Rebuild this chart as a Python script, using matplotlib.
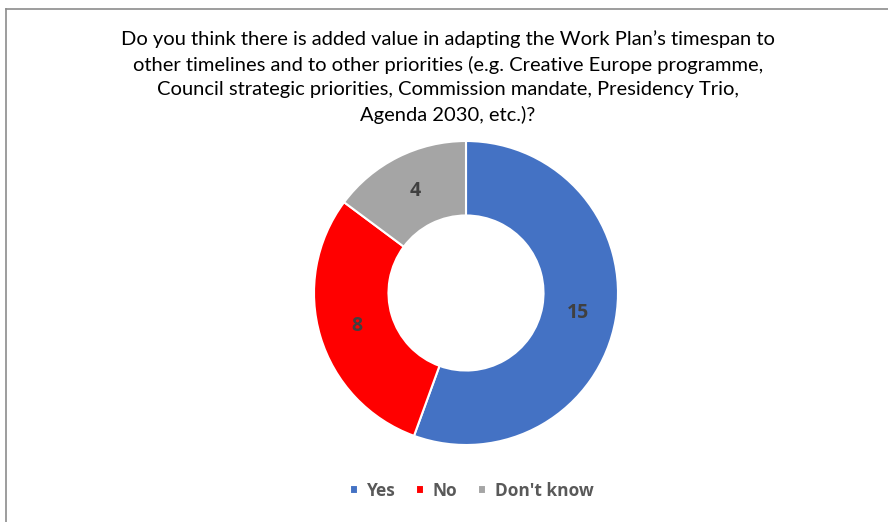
import numpy as np
import matplotlib.pyplot as plt
from matplotlib.lines import Line2D

# survey answers
categories = ["Yes", "No", "Don't know"]
counts = [15, 8, 4]
colors = ["#4472C4", "#FF0000", "#A5A5A5"]

title = ("Do you think there is added value in adapting the Work Plan\u2019s timespan to\n"
         "other timelines and to other priorities (e.g. Creative Europe programme,\n"
         "Council strategic priorities, Commission mandate, Presidency Trio,\n"
         "Agenda 2030, etc.)?")

W, H = 888, 522
plt.rcParams['font.family'] = ['Lato', 'DejaVu Sans']
bold_font = ['Open Sans', 'DejaVu Sans']

fig = plt.figure(figsize=(W / 100, H / 100), dpi=100)
fig.patch.set_facecolor("white")

# chart frame (only the left and top edges are visible)
fig.add_artist(Line2D([6 / W, 6 / W], [0, 1 - 9 / H], color="#8c8c8c", lw=1.2))
fig.add_artist(Line2D([6 / W, 1], [1 - 9 / H, 1 - 9 / H], color="#8c8c8c", lw=1.2))

cx, cy, r = 466, 293, 152
ax = fig.add_axes([(cx - r) / W, (H - cy - r) / H, 2 * r / W, 2 * r / H])

wedges, texts = ax.pie(
    counts,
    colors=colors,
    startangle=90,
    counterclock=False,
    radius=1.0,
    wedgeprops=dict(width=0.49, edgecolor="white", linewidth=1.5),
)
# value labels in the middle of each ring segment
for w, v in zip(wedges, counts):
    ang = np.deg2rad((w.theta1 + w.theta2) / 2)
    ax.text(0.75 * np.cos(ang), 0.75 * np.sin(ang), str(v),
            ha="center", va="center", fontsize=14, fontweight="bold",
            color="#404040", family=bold_font)
ax.set_xlim(-1, 1)
ax.set_ylim(-1, 1)
ax.set_aspect("equal")
ax.axis("off")

fig.text(448 / W, 1 - 77 / H, title, ha="center", va="center",
         fontsize=14.5, color="black", linespacing=1.52)

leg = fig.legend(wedges, categories, loc="center", bbox_to_anchor=(472 / W, 1 - 491 / H),
                 ncol=3, frameon=False, handlelength=0.45, handleheight=0.45,
                 handletextpad=0.5, columnspacing=1.2,
                 prop=dict(size=12.5, weight="bold", family=bold_font))
for t in leg.get_texts():
    t.set_color("#595959")

fig.savefig("out.png", dpi=100, facecolor="white")
